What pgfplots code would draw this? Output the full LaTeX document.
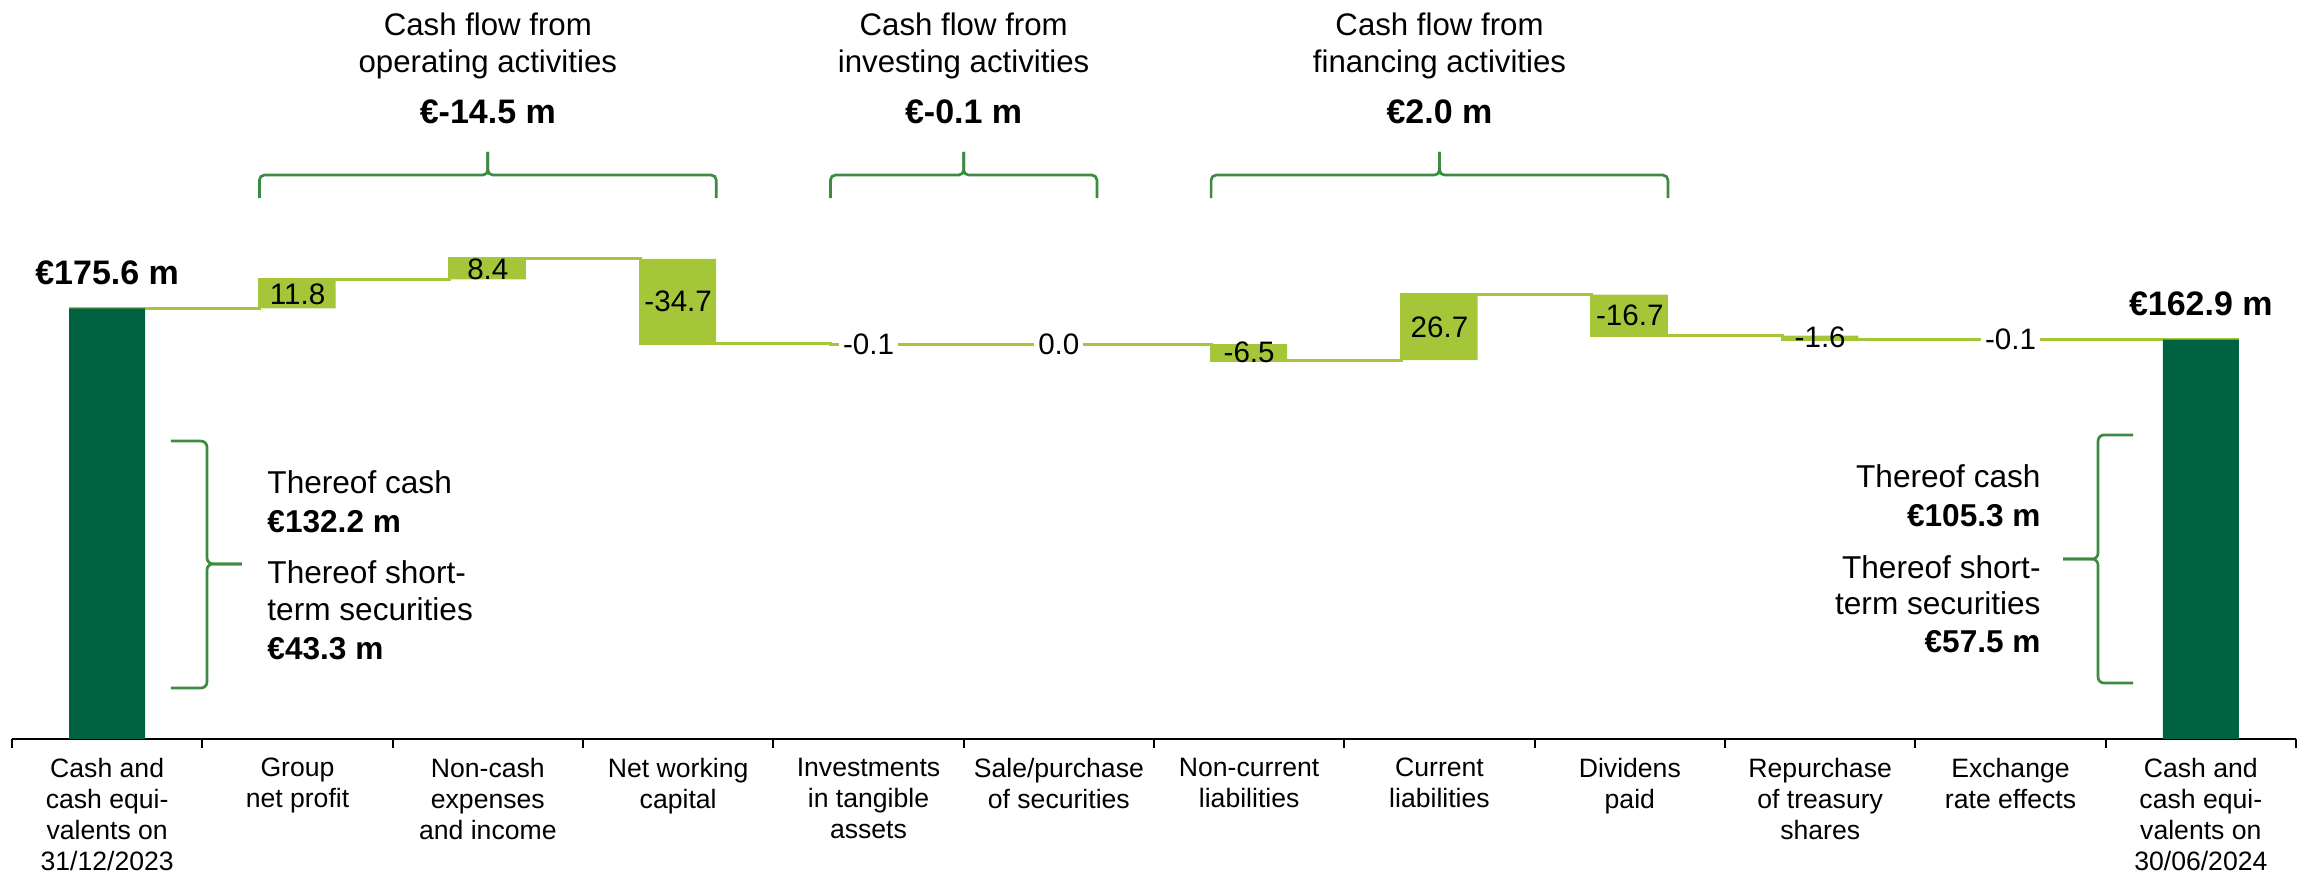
\documentclass[border=0pt]{standalone}
\usepackage{fontspec}
\setmainfont{Liberation Sans}
\usepackage{pgfplots}
\pgfplotsset{compat=1.18}
\usepackage{pgfplotstable}
\usetikzlibrary{calc}
\definecolor{darkg}{RGB}{0,98,65}
\definecolor{lightg}{RGB}{166,198,57}
\definecolor{braceg}{RGB}{61,139,64}
\tikzset{br/.style={draw=braceg, line width=1.35pt, rounded corners=2.5pt}}
\newcommand{\ttl}{\fontsize{15.6}{18}\selectfont}
\newcommand{\bvl}{\fontsize{17}{20}\selectfont\bfseries}
\newcommand{\sidet}{\fontsize{15.8}{19}\selectfont}
\newcommand{\sideb}{\fontsize{15.8}{19}\selectfont\bfseries}

% bars: invisible base, light green change, dark green totals
\pgfplotstableread{
x base light dark
0 0 0 175.6
1 175.6 11.8 0
2 187.4 8.4 0
3 161.1 34.7 0
4 161.0 0.1 0
5 161.0 0.0 0
6 154.5 6.5 0
7 154.5 26.7 0
8 164.5 16.7 0
9 162.9 1.6 0
10 162.8 0.1 0
11 0 0 162.9
}\bars

% running totals (connector line)
\pgfplotstableread{
x y
-0.2 175.6
0.8 187.4
1.8 195.8
2.8 161.1
3.8 161.0
4.8 161.0
5.8 154.5
6.8 181.2
7.8 164.5
8.8 162.9
9.8 162.8
10.8 162.9
11.2 162.9
}\totals

% value labels at the middle of each bar
\pgfplotstableread{
x y label
1 181.5 11.8
2 191.6 8.4
3 178.45 -34.7
6 157.75 -6.5
7 167.85 26.7
8 172.85 -16.7
9 163.7 -1.6
}\vals

\pgfplotstableread{
x y label
4 161.05 -0.1
5 161.0 0.0
10 162.85 -0.1
}\valsw

\pgfplotsset{frame/.style={width=1142pt, height=369.5pt, scale only axis,
  xmin=-0.5, xmax=11.5, ymin=0, ymax=301.4, enlargelimits=false, clip=false}}

\begin{document}
\begin{tikzpicture}
\begin{axis}[
  frame,
  axis x line*=bottom, axis y line=none,
  axis line style={black, line width=1pt},
  ybar stacked, bar width=0.4,
  xtick={0,...,11}, major tick length=0pt,
  minor xtick={-0.5,0.5,...,11.5}, minor tick length=4.5pt, tick align=outside,
  every minor tick/.append style={black, line width=1pt},
  xticklabels={
    {Cash and\\cash equi-\\valents on\\31/12/2023},
    {Group\\net profit},
    {Non-cash\\expenses\\and income},
    {Net working\\capital},
    {Investments\\in tangible\\assets},
    {Sale/purchase\\of securities},
    {Non-current\\liabilities},
    {Current\\liabilities},
    {Dividens\\paid},
    {Repurchase\\of treasury\\shares},
    {Exchange\\rate effects},
    {Cash and\\cash equi-\\valents on\\30/06/2024}},
  xticklabel style={font=\fontsize{13.3}{15.5}\selectfont, align=center, anchor=north, inner sep=0pt, yshift=-9.3pt, text=black},
  ytick=\empty,
]
\addplot[draw=none, fill=none] table[x=x, y=base] {\bars};
\addplot[draw=none, fill=lightg] table[x=x, y=light] {\bars};
\addplot[draw=none, fill=darkg] table[x=x, y=dark] {\bars};

\addplot[stack plots=false, const plot, draw=lightg, fill=none, line width=1.5pt, mark=none] table[x=x, y=y] {\totals};

% total labels
\node[anchor=base, font=\bvl, yshift=12pt] at (axis cs:0,175.6) {€175.6 m};
\node[anchor=base, font=\bvl, yshift=12pt] at (axis cs:11,162.9) {€162.9 m};

% top braces
\draw[br] (axis cs:0.8,220.6) -- (axis cs:0.8,230) -- (axis cs:2.0,230) -- (axis cs:2.0,239.4);
\draw[br] (axis cs:3.2,220.6) -- (axis cs:3.2,230) -- (axis cs:2.0,230) -- (axis cs:2.0,239.4);
\draw[br] (axis cs:3.8,220.6) -- (axis cs:3.8,230) -- (axis cs:4.5,230) -- (axis cs:4.5,239.4);
\draw[br] (axis cs:5.2,220.6) -- (axis cs:5.2,230) -- (axis cs:4.5,230) -- (axis cs:4.5,239.4);
\draw[br] (axis cs:5.8,220.6) -- (axis cs:5.8,230) -- (axis cs:7.0,230) -- (axis cs:7.0,239.4);
\draw[br] (axis cs:8.2,220.6) -- (axis cs:8.2,230) -- (axis cs:7.0,230) -- (axis cs:7.0,239.4);

% top titles
\node[anchor=base, font=\ttl] at (axis cs:2.0,287.1) {Cash flow from};
\node[anchor=base, font=\ttl] at (axis cs:2.0,272.0) {operating activities};
\node[anchor=base, font=\bvl] at (axis cs:2.0,251.2) {€-14.5 m};
\node[anchor=base, font=\ttl] at (axis cs:4.5,287.1) {Cash flow from};
\node[anchor=base, font=\ttl] at (axis cs:4.5,272.0) {investing activities};
\node[anchor=base, font=\bvl] at (axis cs:4.5,251.2) {€-0.1 m};
\node[anchor=base, font=\ttl] at (axis cs:7.0,287.1) {Cash flow from};
\node[anchor=base, font=\ttl] at (axis cs:7.0,272.0) {financing activities};
\node[anchor=base, font=\bvl] at (axis cs:7.0,251.2) {€2.0 m};

% side braces
\draw[br, rounded corners=3pt] (axis cs:0.335,121.5) -- (axis cs:0.5245,121.5) -- (axis cs:0.5245,71.4) -- (axis cs:0.708,71.4);
\draw[br, rounded corners=3pt] (axis cs:0.335,20.8) -- (axis cs:0.5245,20.8) -- (axis cs:0.5245,71.4) -- (axis cs:0.708,71.4);
\draw[br, rounded corners=3pt] (axis cs:10.644,124) -- (axis cs:10.46,124) -- (axis cs:10.46,73.4) -- (axis cs:10.276,73.4);
\draw[br, rounded corners=3pt] (axis cs:10.644,22.8) -- (axis cs:10.46,22.8) -- (axis cs:10.46,73.4) -- (axis cs:10.276,73.4);

% side texts
\node[anchor=base west, inner sep=0pt, font=\sidet] at (axis cs:0.84,100.3) {Thereof cash};
\node[anchor=base west, inner sep=0pt, font=\sideb] at (axis cs:0.84,84.4) {€132.2 m};
\node[anchor=base west, inner sep=0pt, font=\sidet] at (axis cs:0.84,63.6) {Thereof short-};
\node[anchor=base west, inner sep=0pt, font=\sidet] at (axis cs:0.84,48.5) {term securities};
\node[anchor=base west, inner sep=0pt, font=\sideb] at (axis cs:0.84,32.6) {€43.3 m};
\node[anchor=base east, inner sep=0pt, font=\sidet] at (axis cs:10.16,102.4) {Thereof cash};
\node[anchor=base east, inner sep=0pt, font=\sideb] at (axis cs:10.16,86.5) {€105.3 m};
\node[anchor=base east, inner sep=0pt, font=\sidet] at (axis cs:10.16,65.6) {Thereof short-};
\node[anchor=base east, inner sep=0pt, font=\sidet] at (axis cs:10.16,50.6) {term securities};
\node[anchor=base east, inner sep=0pt, font=\sideb] at (axis cs:10.16,35.1) {€57.5 m};
\end{axis}

% overlay axis (same frame, no stacking) for the value labels
\begin{axis}[frame, axis lines=none]
\addplot[only marks, mark=*, mark size=0pt, mark options={draw=none, fill=none},
  point meta=explicit symbolic, nodes near coords,
  every node near coord/.append style={anchor=center, font=\fontsize{14.8}{17}\selectfont, text=black, inner sep=1pt}]
  table[x=x, y=y, meta=label] {\vals};
\addplot[only marks, mark=*, mark size=0pt, mark options={draw=none, fill=none},
  point meta=explicit symbolic, nodes near coords,
  every node near coord/.append style={anchor=center, font=\fontsize{14.8}{17}\selectfont, text=black, fill=white, inner sep=2pt}]
  table[x=x, y=y, meta=label] {\valsw};
\end{axis}
\pgfresetboundingbox
\path ($(current axis.south west)+(-6pt,-67.5pt)$) rectangle ($(current axis.north east)+(4.5pt,0pt)$);
\end{tikzpicture}
\end{document}
